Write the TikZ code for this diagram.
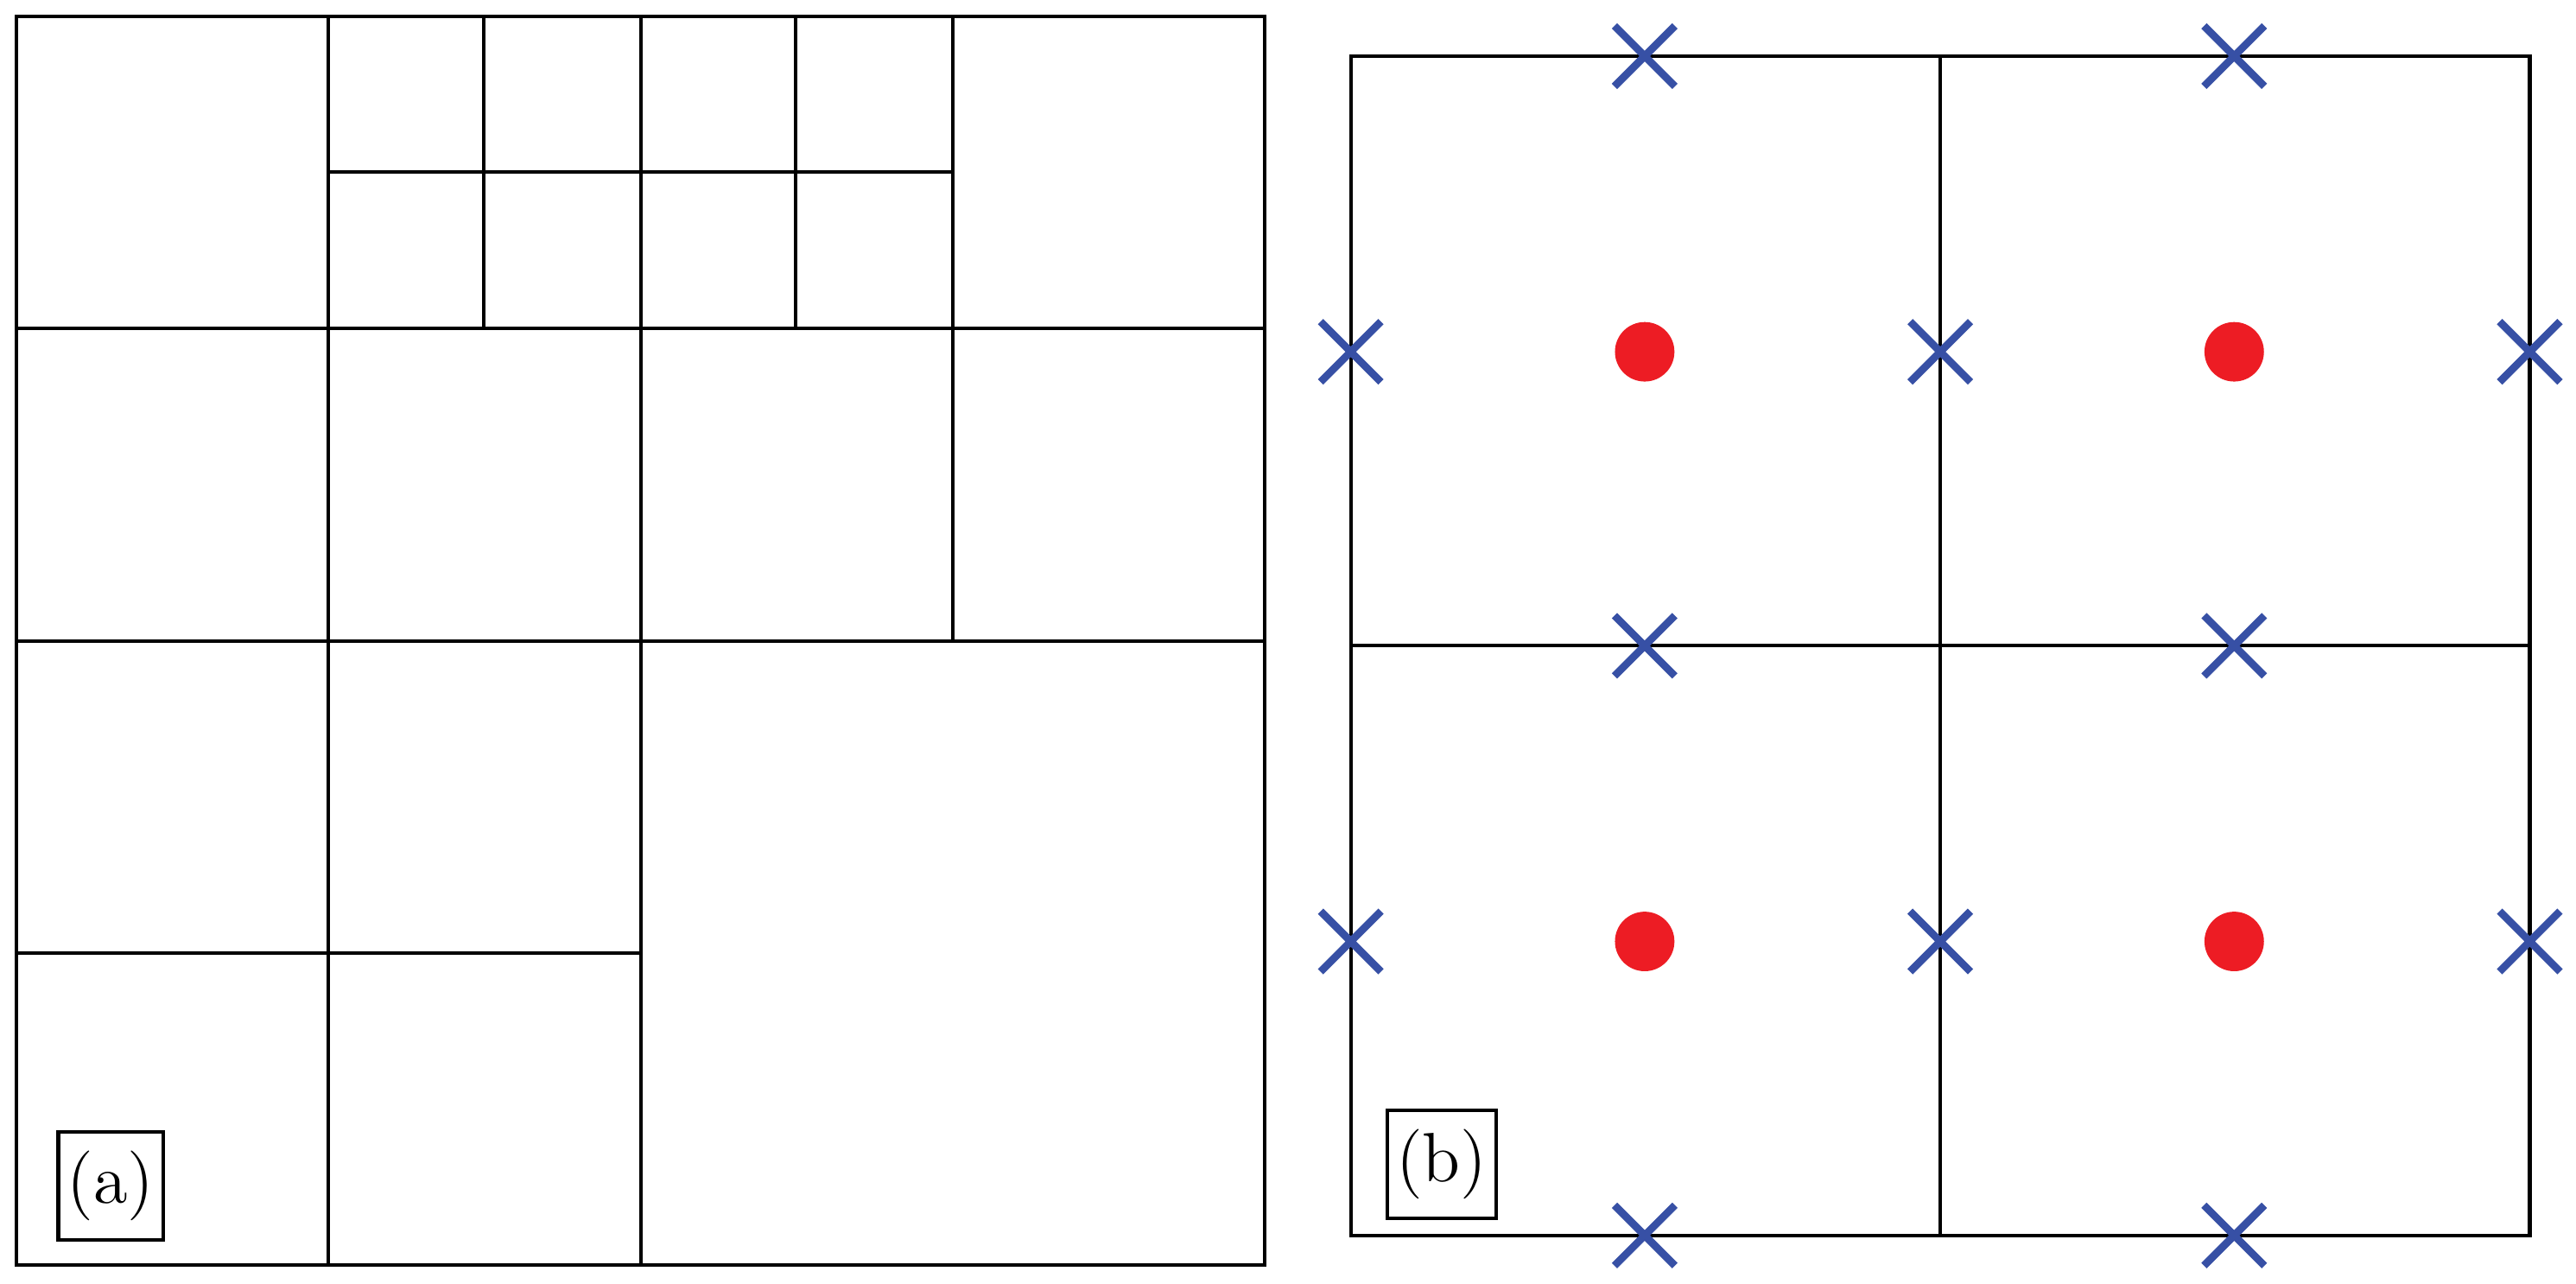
\documentclass[tikz,border=0pt]{standalone}
\usetikzlibrary{shapes.misc}
\definecolor{xblue}{RGB}{55,80,165}
\definecolor{dotred}{RGB}{237,28,36}
\begin{document}
\begin{tikzpicture}
		[x=0.01cm,y=-0.01cm,line width=0.6pt]
			\tikzstyle{xmark}=[cross out, draw=xblue, line width=1.3pt,
		minimum size=0.32cm, inner sep=0pt]
			\tikzstyle{dot}=[circle, fill=dotred, minimum size=0.36cm, inner sep=0pt]
			\tikzstyle{tag}=[draw, font=\large, inner xsep=1.5pt, minimum height=0.55cm]
		\useasboundingbox (0,0) rectangle (1560,777);
		%-----(a)
		 \draw (10,10) rectangle (766,766);
		 \foreach \x in {199,388,577} \draw (\x,10) -- (\x,388);
		 \draw (199,388) -- (199,766);
		 \draw (388,388) -- (388,766);
		 \foreach \y in {199,388} \draw (10,\y) -- (766,\y);
		 \draw (10,577) -- (388,577);
		 \draw (199,104) -- (577,104);
		 \foreach \x in {293,482} \draw (\x,10) -- (\x,199);
		 \node[tag] (A) at (67,718) {(a)};
		%-----(b)
		 \draw (818,34) rectangle (1532,748);
		 \draw (1175,34) -- (1175,748);
		 \draw (818,391) -- (1532,391);
		 \foreach \i/\x/\y in {1/996/34,2/1353/34,3/818/213,4/1175/213,5/1532/213,6/996/391,7/1353/391,8/818/570,9/1175/570,10/1532/570,11/996/748,12/1353/748}
		 \node[xmark] (X\i) at (\x,\y) {};
		 \foreach \i/\x/\y in {1/996/213,2/1353/213,3/996/570,4/1353/570}
		 \node[dot] (C\i) at (\x,\y) {};
		 \node[tag] (B) at (873,705) {(b)};
		\end{tikzpicture}
\end{document}
